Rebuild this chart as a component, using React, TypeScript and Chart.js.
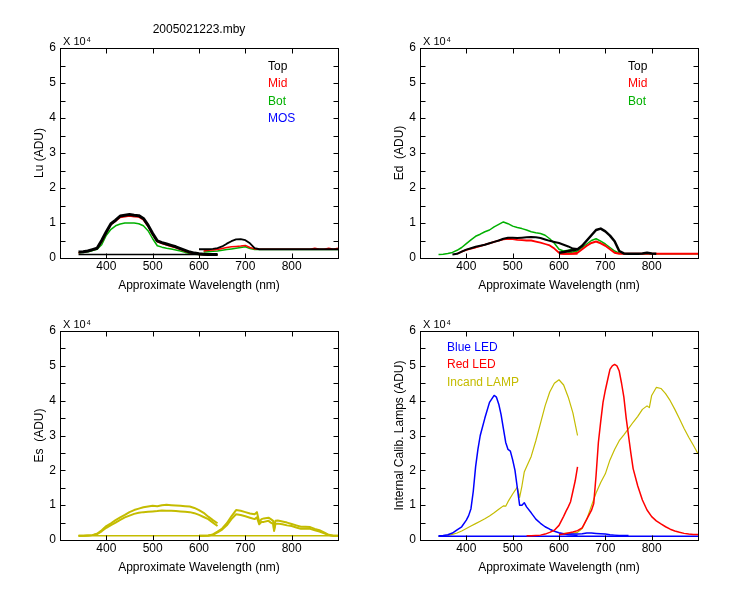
import React, { useEffect, useRef } from "react";
import { Chart, registerables } from "chart.js";
Chart.register(...registerables);

// ---------- axes / ticks ----------
const xTickValues = [400, 500, 600, 700, 800];
const yTickValues = [0, 1, 2, 3, 4, 5, 6];
const yTickMarks = [0.5, 1, 1.5, 2, 2.5, 3, 3.5, 4, 4.5, 5, 5.5];
const xRange = [300, 900];
const yRange = [0, 6];

// ---------- wavelengths (nm) ----------
const wlA = [340, 350, 360, 370, 380, 390, 400, 410, 420, 430, 440, 450, 460, 470, 480, 490, 500, 510, 520, 530, 540, 550, 560, 570, 580, 590, 600, 610, 620, 630, 640];
const wlB = [600, 610, 620, 630, 640, 650, 660, 670, 680, 690, 700, 710, 720, 730, 740, 750, 760, 770, 780, 790, 800, 810, 820, 830, 840, 850, 860, 870, 880, 890, 900];
const wlFlatA = [340, 640];
const wlFlatAll = [340, 900];

// ---------- Lu (x 10^4 ADU) ----------
const luTopA = [0.17, 0.18, 0.2, 0.24, 0.28, 0.5, 0.75, 0.98, 1.08, 1.2, 1.22, 1.24, 1.22, 1.21, 1.13, 0.94, 0.7, 0.49, 0.44, 0.4, 0.36, 0.32, 0.27, 0.22, 0.17, 0.14, 0.12, 0.11, 0.1, 0.1, 0.1];
const luTopDark = [0.1, 0.1];
const luTopB = [0.25, 0.25, 0.25, 0.26, 0.28, 0.33, 0.41, 0.48, 0.53, 0.54, 0.51, 0.42, 0.28, 0.25, 0.25, 0.25, 0.25, 0.25, 0.25, 0.25, 0.25, 0.25, 0.25, 0.25, 0.25, 0.25, 0.25, 0.25, 0.25, 0.25, 0.25];
const luMidA = [0.15, 0.17, 0.19, 0.23, 0.27, 0.46, 0.72, 0.95, 1.05, 1.16, 1.18, 1.2, 1.18, 1.17, 1.09, 0.9, 0.66, 0.46, 0.41, 0.37, 0.33, 0.29, 0.24, 0.19, 0.15, 0.12, 0.1, 0.1, 0.09, 0.09, 0.09];
const luMidB = [null, 0.2, 0.22, 0.23, 0.24, 0.27, 0.3, 0.32, 0.33, 0.34, 0.36, 0.3, 0.26, 0.25, 0.25, 0.25, 0.25, 0.25, 0.25, 0.25, 0.25, 0.25, 0.25, 0.25, 0.25, 0.28, 0.25, 0.25, 0.28, 0.25, 0.28];
const luBotA = [0.15, 0.16, 0.18, 0.21, 0.25, 0.38, 0.65, 0.82, 0.92, 0.97, 1.0, 1.0, 1.0, 0.98, 0.92, 0.78, 0.55, 0.35, 0.31, 0.28, 0.26, 0.23, 0.2, 0.16, 0.13, 0.11, 0.1, 0.09, 0.09, 0.09, 0.09];
const luBotB = [null, 0.17, 0.18, 0.19, 0.2, 0.22, 0.24, 0.26, 0.28, 0.3, 0.32, 0.27, 0.24, 0.24, 0.24, 0.24, 0.24, 0.24, 0.24, 0.24, 0.24, 0.24, 0.24, 0.24, 0.24, 0.24, 0.24, 0.24, 0.24, 0.24, 0.24];

// ---------- Ed (x 10^4 ADU) ----------
const edTopA = [null, null, null, 0.1, 0.12, 0.18, 0.24, 0.28, 0.32, 0.35, 0.38, 0.42, 0.46, 0.5, 0.55, 0.58, 0.58, 0.57, 0.58, 0.59, 0.6, 0.59, 0.57, 0.53, 0.49, 0.46, 0.43, 0.38, 0.33, 0.27, 0.26];
const edTopB = [0.15, 0.17, 0.2, 0.22, 0.25, 0.35, 0.5, 0.65, 0.8, 0.84, 0.76, 0.64, 0.48, 0.2, 0.13, 0.12, 0.12, 0.12, 0.13, 0.15, 0.13, 0.12];
const edMidA = [null, null, null, null, 0.12, 0.18, 0.23, 0.27, 0.3, 0.34, 0.38, 0.42, 0.46, 0.5, 0.53, 0.55, 0.54, 0.52, 0.51, 0.5, 0.5, 0.47, 0.44, 0.4, 0.36, 0.27, 0.15, 0.12, 0.12, 0.12, 0.12];
const edMidB = [0.12, 0.12, 0.12, 0.13, 0.15, 0.25, 0.35, 0.43, 0.47, 0.42, 0.35, 0.25, 0.15, 0.12, 0.12, 0.12, 0.12, 0.12, 0.12, 0.12, 0.12, 0.12, 0.12, 0.12, 0.12, 0.12, 0.12, 0.12, 0.12, 0.12, 0.12];
const edBotA = [0.1, 0.11, 0.13, 0.16, 0.22, 0.3, 0.41, 0.52, 0.62, 0.68, 0.75, 0.8, 0.89, 0.96, 1.03, 0.98, 0.91, 0.87, 0.84, 0.8, 0.75, 0.72, 0.7, 0.65, 0.55, 0.42, 0.25, 0.2, 0.22, 0.25, 0.25];
const edBotB = [0.13, 0.14, 0.15, 0.17, 0.2, 0.3, 0.4, 0.5, 0.55, 0.48, 0.4, 0.3, 0.2, 0.14, 0.12, 0.12, 0.12, 0.12, 0.12, 0.12, 0.12, 0.12, 0.12, 0.12, 0.12, 0.12, 0.12, 0.12, 0.12, 0.12, 0.12];

// ---------- Es (x 10^4 ADU) ----------
const esUpA = [0.12, 0.12, 0.13, 0.14, 0.18, 0.28, 0.4, 0.48, 0.57, 0.65, 0.72, 0.8, 0.86, 0.9, 0.94, 0.96, 0.98, 0.97, 1.0, 1.01, 1.0, 0.99, 0.98, 0.97, 0.96, 0.92, 0.86, 0.78, 0.67, 0.57, 0.48];
const esLoA = [0.12, 0.12, 0.13, 0.14, 0.17, 0.25, 0.35, 0.43, 0.5, 0.58, 0.65, 0.7, 0.75, 0.78, 0.8, 0.81, 0.82, 0.83, 0.85, 0.84, 0.84, 0.83, 0.82, 0.81, 0.8, 0.77, 0.72, 0.66, 0.6, 0.5, 0.4];
const esBase = [0.12, 0.12];
const esWlB = [600, 610, 620, 630, 640, 650, 660, 670, 680, 690, 700, 710, 720, 725, 730, 735, 740, 750, 755, 760, 762, 765, 770, 780, 790, 800, 810, 820, 830, 840, 850, 860, 870, 880, 890, 900];
const esUpB = [0.12, 0.12, 0.13, 0.16, 0.24, 0.33, 0.48, 0.68, 0.86, 0.84, 0.8, 0.76, 0.74, 0.8, 0.52, 0.6, 0.62, 0.64, 0.6, 0.55, 0.3, 0.55, 0.56, 0.53, 0.5, 0.46, 0.42, 0.38, 0.38, 0.37, 0.32, 0.28, 0.22, 0.15, 0.12, 0.12];
const esLoB = [0.12, 0.12, 0.13, 0.15, 0.22, 0.3, 0.42, 0.6, 0.74, 0.72, 0.68, 0.64, 0.6, 0.65, 0.45, 0.52, 0.52, 0.55, 0.5, 0.46, 0.26, 0.46, 0.47, 0.45, 0.42, 0.4, 0.36, 0.32, 0.33, 0.32, 0.28, 0.24, 0.19, 0.14, 0.12, 0.12];

// ---------- Internal calibration lamps (x 10^4 ADU) ----------
const blueWlA = [340, 350, 360, 370, 380, 390, 400, 405, 410, 415, 420, 425, 430, 440, 450, 460, 465, 470, 475, 480, 485, 490, 495, 500, 505, 510, 515, 520, 525, 530, 540, 550, 560, 570, 580, 590, 600, 610, 620, 630, 640];
const blueA = [0.12, 0.13, 0.15, 0.2, 0.29, 0.38, 0.57, 0.7, 0.9, 1.4, 2.1, 2.6, 3.0, 3.5, 3.95, 4.15, 4.1, 3.9, 3.6, 3.2, 2.8, 2.6, 2.55, 2.3, 2.0, 1.5, 1.0, 1.0, 1.07, 0.95, 0.78, 0.6, 0.48, 0.38, 0.31, 0.25, 0.21, 0.18, 0.15, 0.14, 0.13];
const blueWlB = [600, 620, 640, 650, 660, 670, 680, 690, 700, 710, 720, 730, 740, 750];
const blueB = [0.17, 0.17, 0.17, 0.18, 0.2, 0.2, 0.19, 0.18, 0.17, 0.15, 0.14, 0.13, 0.13, 0.13];
const blueBase = [0.11, 0.11];
const redWlA = [530, 540, 550, 560, 570, 580, 590, 600, 605, 610, 615, 620, 625, 630, 635, 640];
const redA = [0.12, 0.12, 0.13, 0.14, 0.17, 0.22, 0.28, 0.42, 0.55, 0.68, 0.82, 0.95, 1.1, 1.4, 1.7, 2.1];
const redWlB = [600, 610, 620, 630, 640, 650, 660, 670, 675, 680, 685, 690, 695, 700, 705, 710, 715, 720, 725, 730, 735, 740, 745, 750, 755, 760, 770, 780, 790, 800, 810, 820, 830, 840, 850, 860, 870, 880, 890, 900];
const redB = [0.15, 0.17, 0.2, 0.23, 0.27, 0.35, 0.6, 0.85, 1.05, 1.85, 2.8, 3.4, 3.95, 4.3, 4.6, 4.9, 5.0, 5.04, 5.0, 4.85, 4.5, 4.1, 3.5, 3.0, 2.5, 2.05, 1.55, 1.15, 0.86, 0.67, 0.55, 0.46, 0.38, 0.31, 0.26, 0.22, 0.19, 0.17, 0.16, 0.16];
const lampWlA = [340, 350, 360, 370, 380, 390, 400, 410, 420, 430, 440, 450, 460, 470, 480, 485, 490, 500, 510, 515, 520, 525, 530, 540, 550, 560, 570, 580, 590, 600, 610, 620, 630, 640];
const lampA = [0.1, 0.11, 0.13, 0.16, 0.2, 0.26, 0.33, 0.4, 0.47, 0.54, 0.61, 0.69, 0.78, 0.88, 0.98, 0.97, 1.1, 1.32, 1.52, 1.22, 1.55, 1.95, 2.1, 2.4, 2.85, 3.35, 3.85, 4.25, 4.5, 4.6, 4.45, 4.1, 3.65, 3.0];
const lampWlB = [610, 620, 630, 640, 650, 660, 670, 680, 690, 700, 710, 720, 730, 740, 750, 760, 770, 780, 790, 795, 800, 810, 820, 830, 840, 850, 860, 870, 880, 890, 900];
const lampB = [0.19, 0.2, 0.2, 0.22, 0.33, 0.6, 0.98, 1.35, 1.65, 1.9, 2.3, 2.6, 2.85, 3.02, 3.2, 3.38, 3.55, 3.75, 3.85, 3.8, 4.15, 4.38, 4.35, 4.2, 4.0, 3.75, 3.48, 3.2, 2.95, 2.72, 2.48];

// ---------- colours ----------
const BLACK = "#000000";
const RED = "#ff0000";
const GREEN = "#00b000";
const BLUE = "#0000ff";
const YELLOW = "#c4bc00";
const FONT = '"Liberation Sans", Arial, sans-serif';

function pts(wl: number[], v: (number | null)[]) {
  const out: { x: number; y: number }[] = [];
  for (let i = 0; i < wl.length && i < v.length; i++) {
    const y = v[i];
    if (y != null) out.push({ x: wl[i], y });
  }
  return out;
}

function ds(label: string, wl: number[], v: (number | null)[], color: string, width: number) {
  return {
    label, data: pts(wl, v), borderColor: color, backgroundColor: color, borderWidth: width,
    pointRadius: 0, fill: false, tension: 0, borderJoinStyle: "round" as const, borderCapStyle: "butt" as const,
  };
}

type Panel = {
  left: number; top: number;
  pad: { left: number; right: number; top: number; bottom: number };
  title?: string; ylabel: string;
  legend: { text: string; color: string }[];
  legendDX: number; legendDY: number;
  datasets: any[];
};

const panels: Panel[] = [
  {
    left: 0, top: 0, pad: { left: 60, right: 37, top: 48, bottom: 42 },
    title: "2005021223.mby", ylabel: "Lu (ADU)",
    legend: [{ text: "Top", color: BLACK }, { text: "Mid", color: RED }, { text: "Bot", color: GREEN }, { text: "MOS", color: BLUE }],
    legendDX: 208, legendDY: 22,
    datasets: [
      ds("Top", wlA, luTopA, BLACK, 3),
      ds("Top", wlFlatA, luTopDark, BLACK, 1.5),
      ds("Top", wlB, luTopB, BLACK, 1.8),
      ds("Mid", wlA, luMidA, RED, 1.5),
      ds("Mid", wlB, luMidB, RED, 1.5),
      ds("Bot", wlA, luBotA, GREEN, 1.5),
      ds("Bot", wlB, luBotB, GREEN, 1.5),
      ds("MOS", [], [], BLUE, 1),
    ],
  },
  {
    left: 375, top: 0, pad: { left: 45, right: 52, top: 48, bottom: 42 },
    ylabel: "Ed  (ADU)",
    legend: [{ text: "Top", color: BLACK }, { text: "Mid", color: RED }, { text: "Bot", color: GREEN }],
    legendDX: 208, legendDY: 22,
    datasets: [
      ds("Top", wlA, edTopA, BLACK, 2),
      ds("Top", wlB, edTopB, BLACK, 2.5),
      ds("Mid", wlA, edMidA, RED, 1.8),
      ds("Mid", wlB, edMidB, RED, 2),
      ds("Bot", wlA, edBotA, GREEN, 1.5),
      ds("Bot", wlB, edBotB, GREEN, 1.5),
    ],
  },
  {
    left: 0, top: 300, pad: { left: 60, right: 37, top: 31, bottom: 60 },
    ylabel: "Es  (ADU)",
    legend: [],
    legendDX: 0, legendDY: 0,
    datasets: [
      ds("Es", wlA, esUpA, YELLOW, 2),
      ds("Es", wlA, esLoA, YELLOW, 2),
      ds("Es", esWlB, esUpB, YELLOW, 2),
      ds("Es", esWlB, esLoB, YELLOW, 2),
      ds("Es", wlFlatAll, esBase, YELLOW, 1.5),
    ],
  },
  {
    left: 375, top: 300, pad: { left: 45, right: 52, top: 31, bottom: 60 },
    ylabel: "Internal Calib. Lamps (ADU)",
    legend: [{ text: "Blue LED", color: BLUE }, { text: "Red LED", color: RED }, { text: "Incand LAMP", color: YELLOW }],
    legendDX: 27, legendDY: 20,
    datasets: [
      ds("Red LED", redWlA, redA, RED, 1.5),
      ds("Red LED", redWlB, redB, RED, 1.5),
      ds("Blue LED", blueWlA, blueA, BLUE, 1.5),
      ds("Blue LED", blueWlB, blueB, BLUE, 1.5),
      ds("Blue LED", wlFlatAll, blueBase, BLUE, 1.5),
      ds("Incand LAMP", lampWlA, lampA, YELLOW, 1.2),
      ds("Incand LAMP", lampWlB, lampB, YELLOW, 1.2),
    ],
  },
];

function makeDecor(p: Panel) {
  return {
    id: "decor",
    afterDatasetsDraw(chart: any) {
      const { ctx, chartArea: a, scales } = chart;
      const xs = scales.x;
      const ys = scales.y;
      ctx.save();
      ctx.strokeStyle = "#000";
      ctx.lineWidth = 1;
      const L = Math.round(a.left) + 0.5;
      const R = Math.round(a.right) + 0.5;
      const T = Math.round(a.top) + 0.5;
      const B = Math.round(a.bottom) + 0.5;
      ctx.strokeRect(L, T, R - L, B - T);
      ctx.beginPath();
      for (const t of yTickMarks) {
        const y = Math.round(ys.getPixelForValue(t)) + 0.5;
        ctx.moveTo(L, y); ctx.lineTo(L + 5, y);
        ctx.moveTo(R, y); ctx.lineTo(R - 5, y);
      }
      for (const t of xTickValues) {
        const x = Math.round(xs.getPixelForValue(t)) + 0.5;
        ctx.moveTo(x, B); ctx.lineTo(x, B - 5);
        ctx.moveTo(x, T); ctx.lineTo(x, T + 5);
      }
      ctx.stroke();

      ctx.fillStyle = "#000";
      ctx.font = `12px ${FONT}`;
      ctx.textAlign = "right";
      ctx.textBaseline = "middle";
      for (const t of yTickValues) {
        ctx.fillText(String(t), a.left - 4, ys.getPixelForValue(t));
      }
      ctx.textAlign = "center";
      ctx.textBaseline = "alphabetic";
      for (const t of xTickValues) {
        ctx.fillText(String(t), xs.getPixelForValue(t), a.bottom + 12);
      }
      const cx = (a.left + a.right) / 2;
      const cy = (a.top + a.bottom) / 2;
      ctx.fillText("Approximate Wavelength (nm)", cx, a.bottom + 31);
      if (p.title) ctx.fillText(p.title, cx, a.top - 15);
      ctx.save();
      ctx.translate(a.left - 17.5, cy);
      ctx.rotate(-Math.PI / 2);
      ctx.textAlign = "center";
      ctx.fillText(p.ylabel, 0, 0);
      ctx.restore();
      ctx.textAlign = "left";
      ctx.font = `11px ${FONT}`;
      ctx.fillText("X 10", a.left + 3, a.top - 3);
      const w = ctx.measureText("X 10").width;
      ctx.font = `7px ${FONT}`;
      ctx.fillText("4", a.left + 3 + w + 1, a.top - 6);
      ctx.font = `12px ${FONT}`;
      p.legend.forEach((item, i) => {
        ctx.fillStyle = item.color;
        ctx.fillText(item.text, a.left + p.legendDX, a.top + p.legendDY + i * 17.4);
      });
      ctx.restore();
    },
  };
}

function PanelChart({ p }: { p: Panel }) {
  const ref = useRef<HTMLCanvasElement>(null);
  useEffect(() => {
    const chart = new Chart(ref.current as HTMLCanvasElement, {
      type: "line",
      data: { datasets: p.datasets },
      options: {
        responsive: false,
        animation: false,
        events: [],
        layout: { padding: p.pad },
        scales: {
          x: { type: "linear", min: xRange[0], max: xRange[1], display: false },
          y: { type: "linear", min: yRange[0], max: yRange[1], display: false },
        },
        plugins: { legend: { display: false }, tooltip: { enabled: false } },
        elements: { point: { radius: 0 }, line: { tension: 0 } },
      } as any,
      plugins: [makeDecor(p)],
    });
    return () => chart.destroy();
  }, [p]);
  return (
    <canvas
      ref={ref}
      width={375}
      height={300}
      style={{ position: "absolute", left: p.left, top: p.top, width: 375, height: 300 }}
    />
  );
}

export default function App() {
  return (
    <div style={{ position: "absolute", left: 0, top: 0, width: 750, height: 600, background: "#fff" }}>
      {panels.map((p, i) => (
        <PanelChart key={i} p={p} />
      ))}
    </div>
  );
}
